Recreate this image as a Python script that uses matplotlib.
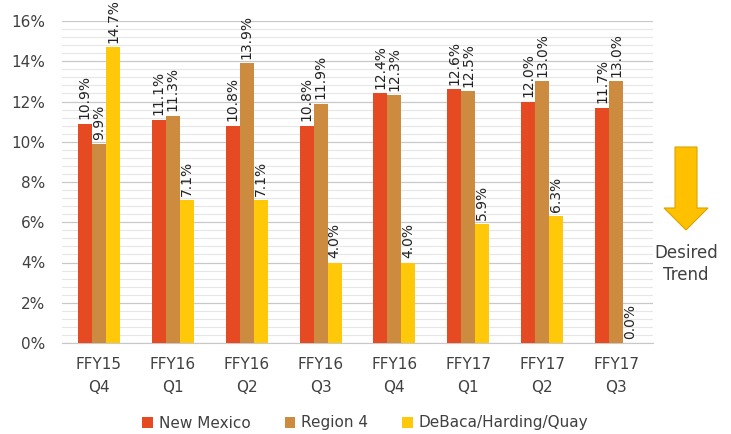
import matplotlib
matplotlib.use("Agg")
import matplotlib.pyplot as plt
import numpy as np
from matplotlib.patches import FancyArrow
from matplotlib.ticker import MultipleLocator, PercentFormatter

categories = ["FFY15\nQ4", "FFY16\nQ1", "FFY16\nQ2", "FFY16\nQ3", "FFY16\nQ4", "FFY17\nQ1", "FFY17\nQ2", "FFY17\nQ3"]
new_mexico = [10.9, 11.1, 10.8, 10.8, 12.4, 12.6, 12.0, 11.7]
region4 = [9.9, 11.3, 13.9, 11.9, 12.3, 12.5, 13.0, 13.0]
dhq = [14.7, 7.1, 7.1, 4.0, 4.0, 5.9, 6.3, 0.0]
series_names = ["New Mexico", "Region 4", "DeBaca/Harding/Quay"]
colors = ["#E64A23", "#CD8B3F", "#FFC90A"]

plt.rcParams['font.family'] = ['DejaVu Sans']
fig = plt.figure(figsize=(7.31, 4.34), dpi=100)
ax = fig.add_axes([62/731, 1-343/434, (653-62)/731, (343-21)/434])

x = np.arange(len(categories))
w = 0.19
tc = "#404040"
for i, (vals, name, c) in enumerate(zip([new_mexico, region4, dhq], series_names, colors)):
    xs = x + (i-1)*w
    ax.bar(xs, vals, w, color=c, label=name, zorder=3)
    for xi, v in zip(xs, vals):
        ax.annotate(f"{v:.1f}%", (xi, v), xytext=(0, 3), textcoords="offset points",
                    rotation=90, ha="center", va="bottom", fontsize=10, color="#222222",
                    annotation_clip=False)

ax.set_xlim(-0.5, len(categories)-0.5)
ax.set_ylim(0, 16)
ax.yaxis.set_major_locator(MultipleLocator(2))
ax.yaxis.set_minor_locator(MultipleLocator(0.4))
ax.yaxis.set_major_formatter(PercentFormatter(decimals=0))
ax.grid(axis='y', which='major', color="#C8C8C8", linewidth=0.9, zorder=0)
ax.grid(axis='y', which='minor', color="#E6E6E6", linewidth=0.8, zorder=0)
for s in ["top", "right", "left"]:
    ax.spines[s].set_visible(False)
ax.spines["bottom"].set_color("#C8C8C8")
ax.tick_params(axis='y', which='both', length=0, labelsize=11, labelcolor=tc, pad=12)
ax.tick_params(axis='x', length=0, labelsize=11, labelcolor=tc, pad=10)
ax.set_xticks(x)
ax.set_xticklabels(categories, linespacing=1.7)

leg = fig.legend(loc="center", bbox_to_anchor=(0.5, 1-423/434), ncol=3, frameon=False,
                 fontsize=11, handlelength=0.7, handleheight=0.7, columnspacing=2.2,
                 handletextpad=0.4)
for t in leg.get_texts():
    t.set_color(tc)

# Desired trend arrow
arrow = FancyArrow(686/731, 1-147/434, 0, -(230-147)/434, width=22/731,
                   head_width=44/731, head_length=22/434, length_includes_head=True,
                   transform=fig.transFigure, facecolor="#FFC000", edgecolor="#D9A400",
                   linewidth=0.8)
fig.patches.append(arrow)
fig.text(686/731, 1-264/434, "Desired\nTrend", ha="center", va="center", fontsize=12,
         color=tc, linespacing=1.3)

fig.savefig("out.png", dpi=100)
